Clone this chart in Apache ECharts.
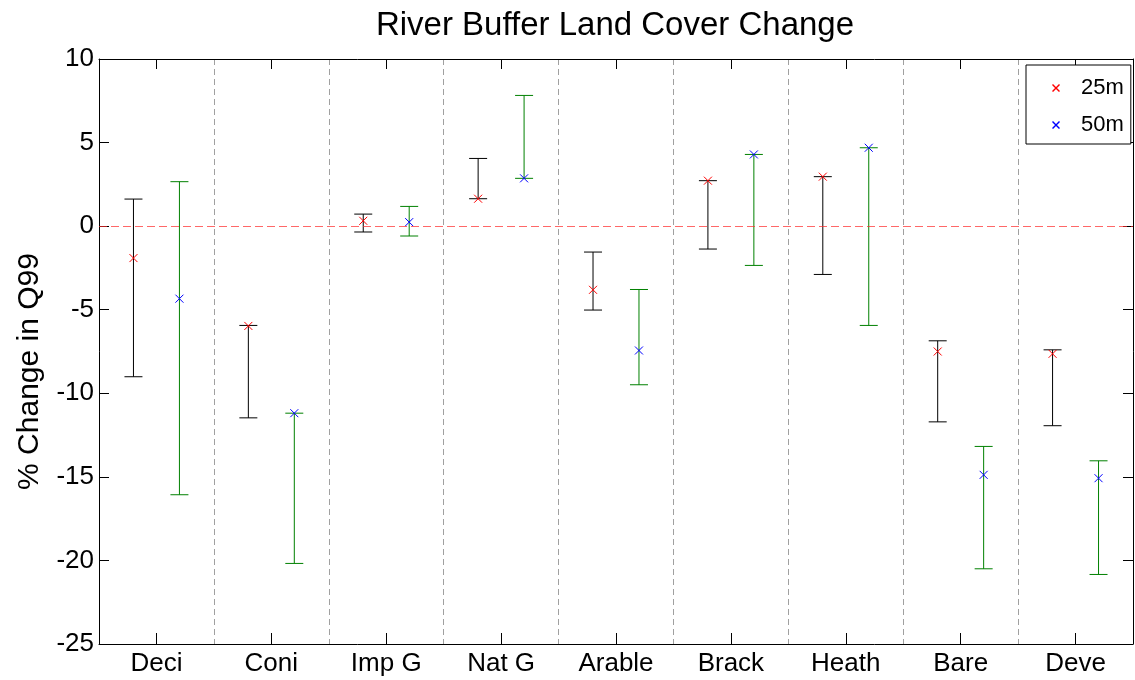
<!DOCTYPE html>
<html><head><meta charset="utf-8">
<script src="https://cdn.jsdelivr.net/npm/echarts@6/dist/echarts.min.js"></script>
<style>html,body{margin:0;padding:0;background:#fff}#c{width:1135px;height:680px}</style>
</head><body><div id="c"></div>
<script>
// ---- data ----
const categories = ['Deci', 'Coni', 'Imp G', 'Nat G', 'Arable', 'Brack', 'Heath', 'Bare', 'Deve'];
const mean25 = [-1.91, -5.97, 0.32, 1.64, -3.81, 2.72, 2.96, -7.50, -7.64];
const low25  = [-9.01, -11.47, -0.35, 1.64, -5.02, -1.37, -2.89, -11.71, -11.94];
const high25 = [1.62, -5.94, 0.72, 4.05, -1.55, 2.72, 2.96, -6.86, -7.40];
const mean50 = [-4.34, -11.19, 0.24, 2.86, -7.44, 4.29, 4.69, -14.88, -15.08];
const low50  = [-16.07, -20.18, -0.59, 2.86, -9.49, -2.35, -5.94, -20.50, -20.84];
const high50 = [2.66, -11.19, 1.18, 7.82, -3.79, 4.29, 4.69, -13.18, -14.04];
const yTicks = { min: -25, max: 10, interval: 5 };
const seriesNames = ['25m', '50m'];

const FONT = '"Liberation Sans", Arial, Helvetica, sans-serif';
const chart = echarts.init(document.getElementById('c'), null, { renderer: 'canvas' });

function makeRender(offsetFrac, barColor, markColor) {
  return function (params, api) {
    const i = api.value(0);
    const band = api.size([1, 0])[0];
    const off = offsetFrac * band;
    const pm = api.coord([i, api.value(1)]);
    const plo = api.coord([i, api.value(2)]);
    const phi = api.coord([i, api.value(3)]);
    const x = pm[0] + off;
    const cap = 9, mk = 4;
    const ls = { stroke: barColor, lineWidth: 1 };
    const ms = { stroke: markColor, lineWidth: 1 };
    return {
      type: 'group', children: [
        { type: 'line', shape: { x1: x, y1: phi[1], x2: x, y2: plo[1] }, style: ls },
        { type: 'line', shape: { x1: x - cap, y1: phi[1], x2: x + cap, y2: phi[1] }, style: ls },
        { type: 'line', shape: { x1: x - cap, y1: plo[1], x2: x + cap, y2: plo[1] }, style: ls },
        { type: 'line', shape: { x1: x - mk, y1: pm[1] - mk, x2: x + mk, y2: pm[1] + mk }, style: ms },
        { type: 'line', shape: { x1: x - mk, y1: pm[1] + mk, x2: x + mk, y2: pm[1] - mk }, style: ms }
      ]
    };
  };
}

const xIcon = 'path://M0,1 L1,0 L8,7 L7,8 Z M7,0 L8,1 L1,8 L0,7 Z';
const axisLineStyle = { color: '#000', width: 1 };

chart.setOption({
  backgroundColor: '#fff',
  animation: false,
  title: {
    text: 'River Buffer Land Cover Change',
    left: 610, top: 4, textAlign: 'center',
    textStyle: { fontFamily: FONT, fontSize: 33, fontWeight: 'normal', color: '#000' }
  },
  legend: {
    orient: 'vertical',
    left: 1026, top: 65,
    padding: [12, 7, 8, 26],
    itemWidth: 8, itemHeight: 8, itemGap: 15,
    borderColor: '#000', borderWidth: 1, backgroundColor: '#fff',
    selectedMode: false,
    textStyle: { fontFamily: FONT, fontSize: 22, color: '#000', lineHeight: 22, padding: [0, 0, 0, 16] },
    data: [
      { name: seriesNames[0], icon: xIcon, itemStyle: { color: '#ff0000' } },
      { name: seriesNames[1], icon: xIcon, itemStyle: { color: '#0000ff' } }
    ]
  },
  grid: { left: 99, right: 2, top: 59, bottom: 36, containLabel: false },
  xAxis: [
    {
      type: 'category', data: categories, boundaryGap: true, position: 'bottom',
      axisLine: { show: true, onZero: false, lineStyle: axisLineStyle },
      axisTick: { show: true, inside: true, alignWithLabel: true, length: 11, lineStyle: axisLineStyle },
      axisLabel: { show: true, fontFamily: FONT, fontSize: 26, color: '#000', margin: 7 },
      splitLine: { show: true, lineStyle: { color: '#a0a0a0', type: [6, 4], width: 1 } }
    },
    {
      type: 'category', data: categories, boundaryGap: true, position: 'top',
      axisLine: { show: true, onZero: false, lineStyle: axisLineStyle },
      axisTick: { show: true, inside: true, alignWithLabel: true, length: 10, lineStyle: axisLineStyle },
      axisLabel: { show: false },
      splitLine: { show: false }
    }
  ],
  yAxis: [
    {
      type: 'value', min: yTicks.min, max: yTicks.max, interval: yTicks.interval, position: 'left',
      name: '% Change in Q99', nameLocation: 'middle', nameGap: 54,
      nameTextStyle: { fontFamily: FONT, fontSize: 30, color: '#000', padding: [0, 40, 0, 0] },
      axisLine: { show: true, onZero: false, lineStyle: axisLineStyle },
      axisTick: { show: true, inside: true, length: 10, lineStyle: axisLineStyle },
      axisLabel: { show: true, fontFamily: FONT, fontSize: 26, color: '#000', margin: 5 },
      splitLine: { show: false }
    },
    {
      type: 'value', min: yTicks.min, max: yTicks.max, interval: yTicks.interval, position: 'right',
      axisLine: { show: true, onZero: false, lineStyle: axisLineStyle },
      axisTick: { show: true, inside: true, length: 10, lineStyle: axisLineStyle },
      axisLabel: { show: false },
      splitLine: { show: false }
    }
  ],
  series: [
    {
      name: seriesNames[0], type: 'custom', xAxisIndex: 0, yAxisIndex: 0,
      itemStyle: { color: '#ff0000' },
      renderItem: makeRender(-0.2, '#000000', '#ff0000'),
      encode: { x: 0, y: [1, 2, 3] },
      data: categories.map((c, i) => [i, mean25[i], low25[i], high25[i]]),
      markLine: {
        silent: true, symbol: 'none', label: { show: false },
        lineStyle: { color: 'rgba(255,40,40,0.7)', type: [8, 4], width: 1 },
        data: [{ yAxis: 0 }]
      },
      z: 3
    },
    {
      name: seriesNames[1], type: 'custom', xAxisIndex: 0, yAxisIndex: 0,
      itemStyle: { color: '#0000ff' },
      renderItem: makeRender(0.2, '#008000', '#0000ff'),
      encode: { x: 0, y: [1, 2, 3] },
      data: categories.map((c, i) => [i, mean50[i], low50[i], high50[i]]),
      z: 3
    }
  ]
});
</script></body></html>
